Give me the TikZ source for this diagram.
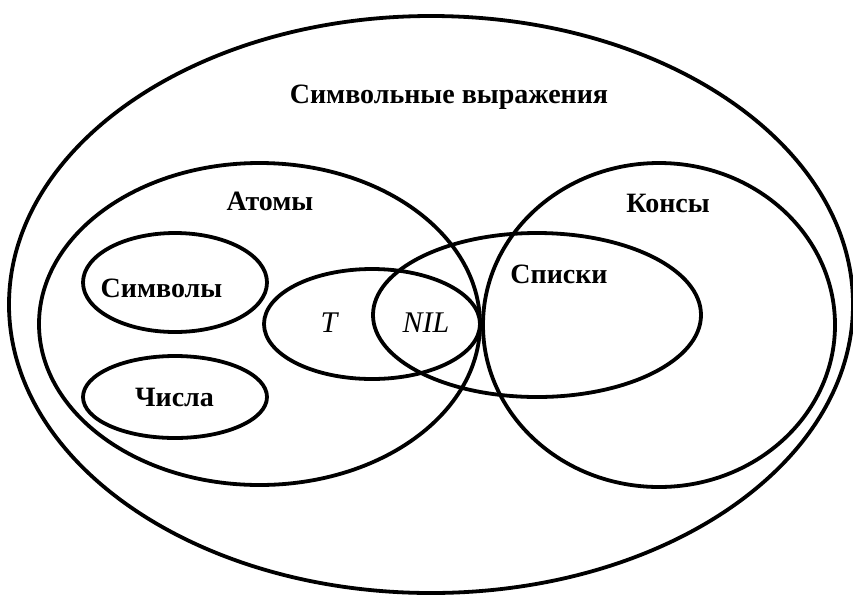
\documentclass[tikz,border=0pt]{standalone}
\usepackage{fontspec}
\setmainfont{Liberation Serif}
\usetikzlibrary{shapes.geometric}

\tikzset{
  setshape/.style={ellipse, draw=black, line width=3.8pt, inner sep=0pt, outer sep=0pt},
  setlabel/.style={anchor=base, inner sep=0pt, font=\bfseries\fontsize{28}{30}\selectfont},
  elemlabel/.style={anchor=base, inner sep=0pt, font=\itshape\fontsize{30}{32}\selectfont}
}

\begin{document}
\begin{tikzpicture}[x=1pt, y=-1pt]
  \useasboundingbox (0,0) rectangle (853,595);

  % sets
  \node[setshape, minimum width=844pt, minimum height=577pt] (sexpr) at (431,304.5) {};
  \node[setshape, minimum width=441pt, minimum height=322pt] (atoms) at (259.5,324) {};
  \node[setshape, minimum width=352pt, minimum height=324pt] (conses) at (659,325) {};
  \node[setshape, minimum width=328pt, minimum height=164pt] (lists) at (537,315) {};
  \node[setshape, minimum width=216pt, minimum height=110pt] (tnil) at (372,324) {};
  \node[setshape, minimum width=184pt, minimum height=99pt] (symbols) at (175,282.5) {};
  \node[setshape, minimum width=184pt, minimum height=82pt] (numbers) at (175,397) {};

  % labels
  \node[setlabel] (lsexpr) at (449,103) {Символьные выражения};
  \node[setlabel] (latoms) at (270,210) {Атомы};
  \node[setlabel] (lconses) at (668,212) {Консы};
  \node[setlabel] (llists) at (559,283) {Списки};
  \node[setlabel] (lsymbols) at (161.5,297) {Символы};
  \node[setlabel] (lnumbers) at (174.5,406) {Числа};
  \node[elemlabel] (lt) at (329,332) {T};
  \node[elemlabel] (lnil) at (426,332) {NIL};
\end{tikzpicture}
\end{document}
